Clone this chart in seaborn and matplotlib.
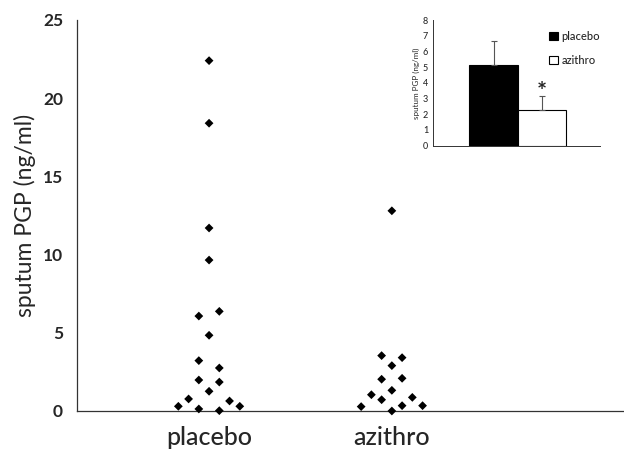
import numpy as np
import pandas as pd
import matplotlib.pyplot as plt
import seaborn as sns

sns.set_theme(style="white")
plt.rcParams["font.family"] = ["Lato", "DejaVu Sans"]
plt.rcParams["font.weight"] = "medium"

groups = ["placebo", "azithro"]

# einzelne Messwerte (ng/ml) und Spalte im Punktmuster
placebo_values = [22.4, 18.4, 11.7, 9.65, 6.07, 6.37, 4.84, 3.22, 2.75,
                  1.98, 1.85, 1.26, 0.77, 0.30, 0.13, 0.02, 0.64, 0.30]
placebo_slots = [0, 0, 0, 0, -1, 1, 0, -1, 1, -1, 1, 0, -2, -3, -1, 1, 2, 3]
azithro_values = [12.8, 3.54, 3.41, 2.90, 2.03, 2.09, 1.32, 1.04, 0.72,
                  0.87, 0.28, 0.34, 0.34, 0.0]
azithro_slots = [0, -1, 1, 0, -1, 1, 0, -2, -1, 2, -3, 1, 3, 0]

# Mittelwert und SD fuer das Inset
bar_means = [5.14, 2.25]
bar_sd = [1.55, 0.92]

pts = pd.DataFrame({
    "group": ["placebo"] * len(placebo_values) + ["azithro"] * len(azithro_values),
    "value": placebo_values + azithro_values,
    "slot": placebo_slots + azithro_slots,
})
pts["xpos"] = pts["group"].map({g: i for i, g in enumerate(groups)}) + pts["slot"] * 0.056

fig = plt.figure(figsize=(6.24, 4.5), dpi=100)
ax = fig.add_axes([0.1234, 0.0867, 0.8766, 0.8689])
sns.scatterplot(data=pts, x="xpos", y="value", marker="D", color="black",
                s=20, edgecolor="none", ax=ax, clip_on=False, zorder=5)
ax.set_xlim(-0.7225, 2.27)
ax.set_ylim(0, 25)
ax.set_yticks([0, 5, 10, 15, 20, 25])
ax.set_xticks([0, 1])
ax.set_xticklabels(groups, fontsize=18)
ax.tick_params(axis="x", length=0, pad=11)
ax.tick_params(axis="y", direction="out", length=4, width=0.8, pad=6, labelsize=12.5)
for t in ax.get_yticklabels():
    t.set_fontweight("bold")
ax.set_xlabel("")
ax.set_ylabel("sputum PGP (ng/ml)", fontsize=16.5, labelpad=5)
for s in ["top", "right"]:
    ax.spines[s].set_visible(False)
for s in ["left", "bottom"]:
    ax.spines[s].set_color("#333333")
    ax.spines[s].set_linewidth(0.9)

# Inset: Mittelwerte
bars = pd.DataFrame({"group": groups, "mean": bar_means, "sd": bar_sd})
ins = fig.add_axes([0.694, 0.6762, 0.2676, 0.2793])
sns.barplot(data=bars, x="group", y="mean", hue="group", palette=["black", "white"],
            edgecolor="black", linewidth=0.8, width=1.0, errorbar=None, ax=ins,
            legend=True)
ins.errorbar(x=[0, 1], y=bars["mean"], yerr=[[0, 0], bars["sd"]], fmt="none",
             ecolor="#555555", elinewidth=0.8, capsize=2, capthick=0.8)
ins.text(1, 2.9, "*", ha="center", va="baseline", fontsize=17, fontweight="bold")
ins.set_xlim(-1.255, 2.21)
ins.set_ylim(0, 8)
ins.set_yticks(range(0, 9))
ins.set_xticks([])
ins.tick_params(axis="y", direction="out", length=2, width=0.6, pad=1.5, labelsize=6.5)
ins.set_xlabel("")
ins.set_ylabel("sputum PGP (ng/ml)", fontsize=5.8, labelpad=2)
for s in ["top", "right"]:
    ins.spines[s].set_visible(False)
for s in ["left", "bottom"]:
    ins.spines[s].set_color("#333333")
    ins.spines[s].set_linewidth(0.7)
leg = ins.legend(loc="upper left", bbox_to_anchor=(0.67, 0.95), frameon=False,
                 fontsize=8, handlelength=0.8, handleheight=0.8, handletextpad=0.3,
                 labelspacing=1.2, borderaxespad=0)

fig.savefig("out.png", dpi=100)
plt.close(fig)
